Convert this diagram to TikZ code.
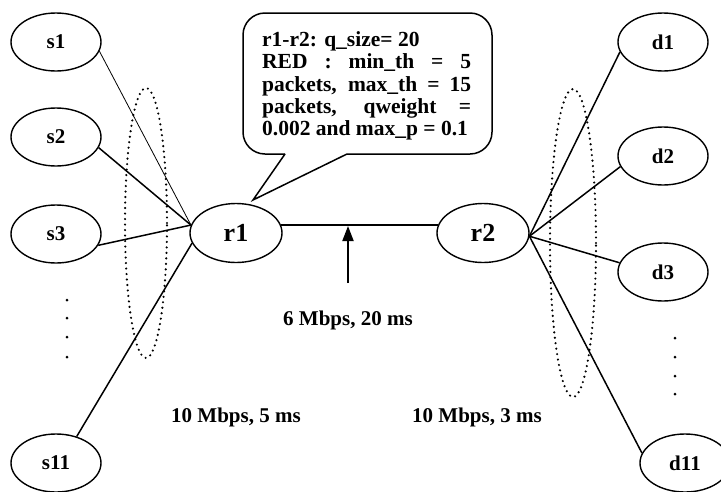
\documentclass[tikz,border=0pt]{standalone}
\usepackage{fontspec}
\setmainfont{Liberation Serif}
\usetikzlibrary{arrows.meta,shapes.geometric}
\tikzset{
  host/.style={ellipse, draw, line width=1.4pt, minimum width=90pt, minimum height=58pt, inner sep=0pt, font=\fontsize{21}{21}\selectfont\bfseries},
  router/.style={host, minimum width=92pt, minimum height=59pt, font=\fontsize{26}{26}\selectfont\bfseries},
  link/.style={line width=1.5pt},
  thinlink/.style={line width=0.8pt},
  grp/.style={ellipse, draw, line width=2.4pt, dash pattern=on 0pt off 5.5pt, line cap=round, inner sep=0pt},
  lbl/.style={font=\fontsize{21}{21}\selectfont\bfseries, inner sep=0pt},
  vdot/.style={circle, fill, inner sep=0pt, minimum size=3pt},
  note/.style={line width=1.5pt},
}
\begin{document}
\begin{tikzpicture}[x=1pt,y=-1pt]
\useasboundingbox (0,0) rectangle (721,491);
\clip (0,0) rectangle (721,491);
\fill[white] (0,0) rectangle (721,491);
% groups
\node[grp, minimum width=42pt, minimum height=270pt] (g1) at (146,223) {};
\node[grp, minimum width=46pt, minimum height=308pt] (g2) at (573,243) {};
% hosts
\node[host] (s1) at (56,42) {s1};
\node[host] (s2) at (56,137) {s2};
\node[host] (s3) at (56,234) {s3};
\node[host] (s11) at (56,463) {s11};
\node[router] (r1) at (236,233) {r1};
\node[router] (r2) at (483,233) {r2};
\node[host] (d1) at (663,42) {d1};
\node[host] (d2) at (663,156) {d2};
\node[host] (d3) at (663,272) {d3};
\node[host] (d11) at (685,463) {d11};
% links
\draw[thinlink] (s1.-12) -- (r1.170);
\draw[link] (s2.-14) -- (r1.170);
\draw[link] (s3.-15) -- (r1.170);
\draw[link] (s11.52) -- (r1.193);
\draw[link] (r1.10) -- (r2.170);
\draw[link] (r2.-4) -- (d1.193);
\draw[link] (r2.-4) -- (d2.194);
\draw[link] (r2.-4) -- (d3.168);
\draw[link] (r2.-4) -- (d11.167);
% vertical dots
\node[vdot] (l1) at (67,300) {};
\node[vdot] (l2) at (67,318) {};
\node[vdot] (l3) at (67,337) {};
\node[vdot] (l4) at (67,357) {};
\node[vdot] (q1) at (675,338) {};
\node[vdot] (q2) at (675,357) {};
\node[vdot] (q3) at (675,376) {};
\node[vdot] (q4) at (675,394) {};
% arrow to bottleneck
\coordinate (ab) at (348,283);
\coordinate (at) at (348,226);
\draw[line width=2pt, -{Triangle[length=15pt,width=11pt]}] (ab) -- (at);
% labels
\node[lbl] (bw) at (348,320) {6 Mbps, 20 ms};
\node[lbl] (bl) at (236,417) {10 Mbps, 5 ms};
\node[lbl] (br) at (477,417) {10 Mbps, 3 ms};
% callout
\coordinate (p1) at (285,154);
\coordinate (p2) at (347,154);
\coordinate (tip) at (253,200);
\draw[note, rounded corners=22pt] (p1) -- (243,154) -- (243,13) -- (492,13) -- (492,154) -- (p2);
\draw[note, line join=miter] (p2) -- (tip) -- (p1);
\node[anchor=north west, inner sep=0pt, align=left, font=\fontsize{21.5}{22.3}\selectfont\bfseries] (txt) at (262,31.5)
 {r1-r2: q\_size= 20\\
  \makebox[209pt][s]{RED : min\_th = 5}\\
  \makebox[209pt][s]{packets, max\_th = 15}\\
  \makebox[209pt][s]{packets, qweight =}\\
  0.002 and max\_p = 0.1};
\end{tikzpicture}
\end{document}
